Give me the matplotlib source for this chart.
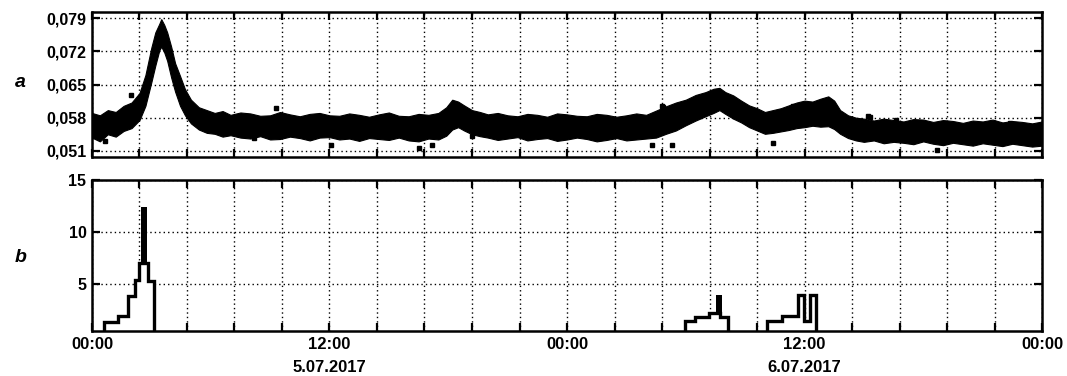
import matplotlib.pyplot as plt
from matplotlib.ticker import FixedLocator

plt.rcParams['font.family'] = ['Liberation Sans', 'DejaVu Sans']
plt.rcParams['font.weight'] = 'bold'

# panel a: envelope of the dense scatter band (hours from 5.07.2017 00:00)
band_t = [0.0, 0.4, 0.8, 1.2, 1.6, 2.0, 2.4, 2.7, 3.0, 3.2,
          3.4, 3.5, 3.65, 3.8, 4.0, 4.2, 4.45, 4.7, 5.0, 5.4,
          5.8, 6.2, 6.6, 7.0, 7.5, 8.0, 8.5, 9.0, 9.5, 10.0,
          10.5, 11.0, 11.5, 12.0, 12.5, 13.0, 13.5, 14.0, 14.5, 15.0,
          15.5, 16.0, 16.5, 17.0, 17.5, 17.9, 18.2, 18.5, 18.8, 19.2,
          19.6, 20.0, 20.5, 21.0, 21.5, 22.0, 22.5, 23.0, 23.5, 24.0,
          24.5, 25.0, 25.5, 26.0, 26.5, 27.0, 27.5, 28.0, 28.5, 29.0,
          29.5, 30.0, 30.5, 31.0, 31.4, 31.7, 32.0, 32.4, 32.8, 33.2,
          33.6, 34.0, 34.4, 34.8, 35.2, 35.6, 36.0, 36.4, 36.8, 37.2,
          37.5, 37.8, 38.2, 38.6, 39.0, 39.5, 40.0, 40.5, 41.0, 41.5,
          42.0, 42.5, 43.0, 43.5, 44.0, 44.5, 45.0, 45.5, 46.0, 46.5,
          47.0, 47.5, 48.0]
band_lo = [0.0538, 0.0530, 0.0545, 0.0540, 0.0552, 0.0558, 0.0575, 0.0605, 0.0655, 0.0690,
           0.0722, 0.0730, 0.0718, 0.0700, 0.0665, 0.0635, 0.0605, 0.0585, 0.0568, 0.0555,
           0.0548, 0.0546, 0.0540, 0.0543, 0.0538, 0.0536, 0.0541, 0.0534, 0.0535, 0.0540,
           0.0537, 0.0532, 0.0538, 0.0539, 0.0534, 0.0536, 0.0531, 0.0537, 0.0535, 0.0533,
           0.0538, 0.0532, 0.0530, 0.0536, 0.0534, 0.0542, 0.0555, 0.0560, 0.0553, 0.0545,
           0.0541, 0.0538, 0.0533, 0.0536, 0.0539, 0.0532, 0.0535, 0.0537, 0.0531, 0.0534,
           0.0538, 0.0535, 0.0530, 0.0533, 0.0537, 0.0532, 0.0534, 0.0536, 0.0538, 0.0546,
           0.0553, 0.0564, 0.0574, 0.0583, 0.0590, 0.0596, 0.0588, 0.0578, 0.0570, 0.0560,
           0.0553, 0.0546, 0.0548, 0.0551, 0.0554, 0.0558, 0.0560, 0.0563, 0.0561, 0.0562,
           0.0556, 0.0546, 0.0537, 0.0532, 0.0529, 0.0532, 0.0526, 0.0529, 0.0527, 0.0524,
           0.0530, 0.0525, 0.0522, 0.0527, 0.0524, 0.0521, 0.0526, 0.0523, 0.0520, 0.0525,
           0.0522, 0.0519, 0.0521]
band_hi = [0.0590, 0.0585, 0.0596, 0.0592, 0.0605, 0.0612, 0.0632, 0.0670, 0.0728, 0.0760,
           0.0778, 0.0788, 0.0776, 0.0760, 0.0730, 0.0695, 0.0668, 0.0640, 0.0618, 0.0602,
           0.0596, 0.0590, 0.0594, 0.0586, 0.0591, 0.0589, 0.0584, 0.0585, 0.0592, 0.0587,
           0.0583, 0.0588, 0.0590, 0.0585, 0.0584, 0.0589, 0.0586, 0.0582, 0.0587, 0.0591,
           0.0584, 0.0583, 0.0588, 0.0586, 0.0590, 0.0602, 0.0618, 0.0614, 0.0606, 0.0596,
           0.0592, 0.0587, 0.0590, 0.0585, 0.0583, 0.0588, 0.0586, 0.0582, 0.0589, 0.0587,
           0.0584, 0.0583, 0.0588, 0.0586, 0.0582, 0.0585, 0.0589, 0.0586, 0.0595, 0.0604,
           0.0612, 0.0618, 0.0628, 0.0634, 0.0641, 0.0643, 0.0634, 0.0627, 0.0616, 0.0606,
           0.0600, 0.0592, 0.0596, 0.0600, 0.0606, 0.0612, 0.0616, 0.0614, 0.0620, 0.0625,
           0.0616, 0.0596, 0.0585, 0.0580, 0.0578, 0.0574, 0.0578, 0.0575, 0.0572, 0.0577,
           0.0576, 0.0571, 0.0575, 0.0573, 0.0569, 0.0574, 0.0572, 0.0576, 0.0570, 0.0573,
           0.0571, 0.0568, 0.0572]

# isolated points outside the band
out_t = [0.66, 1.97, 8.2, 9.3, 12.1, 16.5, 17.2, 19.2, 28.3, 28.8, 28.85, 29.3,
         34.4, 35.4, 39.2, 39.3, 40.6, 42.7, 46.4]
out_v = [0.0531, 0.0627, 0.0537, 0.0600, 0.0523, 0.0516, 0.0523, 0.0541, 0.0523,
         0.0604, 0.0602, 0.0523, 0.0527, 0.0604, 0.0583, 0.0581, 0.0575, 0.0512,
         0.0568]

# panel b: step histogram
hist_edges = [0.62, 1.33, 1.83, 2.17, 2.39, 2.84, 3.15,
              29.97, 30.47, 31.19, 31.73, 32.15,
              34.12, 34.85, 35.69, 35.97, 36.28, 36.58]
hist_counts = [1.4, 1.95, 3.9, 5.4, 7.0, 5.3, 0,
               1.5, 1.8, 2.2, 1.8, 0,
               1.5, 1.9, 4.0, 1.5, 4.0]

# solid spikes on top of the steps
spike_t0 = [2.46, 31.53]
spike_t1 = [2.76, 31.83]
spike_lo = [7.0, 2.2]
spike_hi = [12.4, 4.0]

a_ticks = [0.051, 0.058, 0.065, 0.072, 0.079]
a_labels = ['0,051', '0,058', '0,065', '0,072', '0,079']
b_ticks = [5, 10, 15]
b_labels = ['5', '10', '15']
x_label_pos = [0, 12, 24, 36, 48]
x_label_txt = ['00:00', '12:00', '00:00', '12:00', '00:00']
date_pos = [12, 36]
date_txt = ['5.07.2017', '6.07.2017']

fig = plt.figure(figsize=(10.67, 3.76), dpi=100)
ax1 = fig.add_axes([0.0862, 0.5824, 0.8904, 0.3856])
ax2 = fig.add_axes([0.0862, 0.1197, 0.8904, 0.4016])

grid_x = [2.4 * i for i in range(21)]

for ax in (ax1, ax2):
    ax.set_xlim(0, 48)
    ax.xaxis.set_major_locator(FixedLocator(grid_x))
    ax.grid(True, color='k', linestyle=(0, (1, 2.2)), linewidth=1.0)
    ax.set_axisbelow(True)
    ax.tick_params(direction='in', length=6, width=1.6, top=True, right=True,
                   labelsize=11.5, pad=4)
    for s in ax.spines.values():
        s.set_linewidth(1.8)

ax1.fill_between(band_t, band_lo, band_hi, color='k', lw=0.8, zorder=3)
ax1.plot(out_t, out_v, 's', color='k', ms=2.5, zorder=3)
ax1.set_ylim(0.0497, 0.0803)
ax1.set_yticks(a_ticks)
ax1.set_yticklabels(a_labels)
ax1.set_xticklabels([])

ax2.stairs(hist_counts, hist_edges, baseline=0, fill=True, color='white', zorder=2)
ax2.stairs(hist_counts, hist_edges, baseline=0, color='k', lw=2.4, zorder=3)
for t0, t1, lo, hi in zip(spike_t0, spike_t1, spike_lo, spike_hi):
    ax2.bar((t0 + t1) / 2, hi - lo, width=t1 - t0, bottom=lo, color='k', zorder=4)
ax2.set_ylim(0.5, 15)
ax2.set_yticks(b_ticks)
ax2.set_yticklabels(b_labels)

labels = []
for g in grid_x:
    lab = ''
    for p, t in zip(x_label_pos, x_label_txt):
        if abs(g - p) < 1e-6:
            lab = t
    labels.append(lab)
ax2.set_xticklabels(labels, fontsize=12)

for p, t in zip(date_pos, date_txt):
    ax2.text(p, -0.245, t, transform=ax2.get_xaxis_transform(), ha='center',
             va='center', fontsize=12, fontweight='bold')

fig.text(0.014, 0.78, 'a', fontsize=14, fontweight='bold', style='italic',
         va='center')
fig.text(0.014, 0.315, 'b', fontsize=14, fontweight='bold', style='italic',
         va='center')

fig.savefig('out.png', dpi=100)
